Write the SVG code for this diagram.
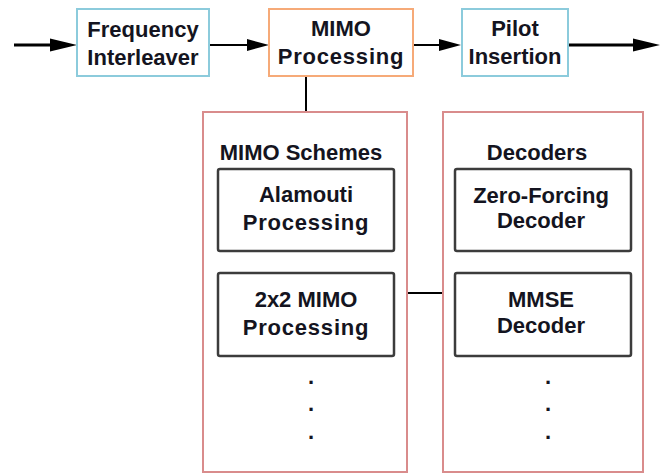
<svg xmlns="http://www.w3.org/2000/svg" width="670" height="474" viewBox="0 0 670 474">
  <style>
    .t { font-family: "Liberation Sans", Arial, sans-serif; font-weight: bold; font-size: 22px; fill: #141420; text-anchor: middle; }
    .blue { fill: #ffffff; stroke: #8ccbdc; stroke-width: 2; }
    .orange { fill: #ffffff; stroke: #f6aa78; stroke-width: 2; }
    .cont { fill: #ffffff; stroke: #d98c8c; stroke-width: 2; }
    .inner { fill: #ffffff; stroke: #3c3c3c; stroke-width: 2.5; }
    .thick { stroke: #000; stroke-width: 3; fill: none; }
    .thin { stroke: #000; stroke-width: 2; fill: none; }
  </style>
  <defs>
    <marker id="ahBig" markerUnits="userSpaceOnUse" markerWidth="27" markerHeight="14" refX="0" refY="7" orient="auto">
      <path d="M0,0.5 L27,7 L0,13.5 z" fill="#000"/>
    </marker>
    <marker id="ahSmall" markerUnits="userSpaceOnUse" markerWidth="23" markerHeight="13" refX="0" refY="6.5" orient="auto">
      <path d="M0,0.5 L22,6.5 L0,12.5 z" fill="#000"/>
    </marker>
  </defs>
  <rect width="670" height="474" fill="#ffffff"/>

  <g id="connectors">
    <line class="thick" x1="14" y1="45" x2="50" y2="45" marker-end="url(#ahBig)"/>
    <line class="thin" x1="209" y1="45" x2="247" y2="45" marker-end="url(#ahSmall)"/>
    <line class="thin" x1="413" y1="45" x2="439" y2="45" marker-end="url(#ahSmall)"/>
    <line class="thick" x1="568" y1="45" x2="633" y2="45" marker-end="url(#ahBig)"/>
    <line class="thin" x1="306" y1="76" x2="306" y2="112"/>
    <line class="thin" x1="407" y1="293" x2="443" y2="293"/>
  </g>

  <g id="freq-interleaver">
    <rect class="blue" x="77" y="9" width="132" height="67"/>
    <text class="t" x="143" y="37">Frequency</text>
    <text class="t" x="143" y="65">Interleaver</text>
  </g>

  <g id="mimo-processing">
    <rect class="orange" x="269" y="9" width="144" height="67"/>
    <text class="t" x="341" y="36">MIMO</text>
    <text class="t" x="341" y="64" letter-spacing="0.8">Processing</text>
  </g>

  <g id="pilot-insertion">
    <rect class="blue" x="462" y="9" width="106" height="67"/>
    <text class="t" x="515" y="36">Pilot</text>
    <text class="t" x="515" y="64">Insertion</text>
  </g>

  <g id="mimo-schemes">
    <rect class="cont" x="203" y="112" width="204" height="360"/>
    <text class="t" x="301" y="160">MIMO Schemes</text>
  </g>

  <g id="alamouti">
    <rect class="inner" x="218" y="169" width="176" height="82" rx="2"/>
    <text class="t" x="306" y="202">Alamouti</text>
    <text class="t" x="306" y="230" letter-spacing="0.8">Processing</text>
  </g>

  <g id="mimo-2x2">
    <rect class="inner" x="218" y="273" width="176" height="83" rx="2"/>
    <text class="t" x="306" y="307">2x2 MIMO</text>
    <text class="t" x="306" y="335" letter-spacing="0.8">Processing</text>
  </g>

  <g id="schemes-dots">
    <text class="t" x="311" y="384">.</text>
    <text class="t" x="311" y="411">.</text>
    <text class="t" x="311" y="439">.</text>
  </g>

  <g id="decoders">
    <rect class="cont" x="443" y="112" width="200" height="360"/>
    <text class="t" x="537" y="160">Decoders</text>
  </g>

  <g id="zero-forcing">
    <rect class="inner" x="455" y="169" width="176" height="82" rx="2"/>
    <text class="t" x="541" y="203">Zero-Forcing</text>
    <text class="t" x="541" y="228">Decoder</text>
  </g>

  <g id="mmse">
    <rect class="inner" x="455" y="273" width="176" height="83" rx="2"/>
    <text class="t" x="541" y="307">MMSE</text>
    <text class="t" x="541" y="333">Decoder</text>
  </g>

  <g id="decoder-dots">
    <text class="t" x="548" y="384">.</text>
    <text class="t" x="548" y="411">.</text>
    <text class="t" x="548" y="439">.</text>
  </g>
</svg>
